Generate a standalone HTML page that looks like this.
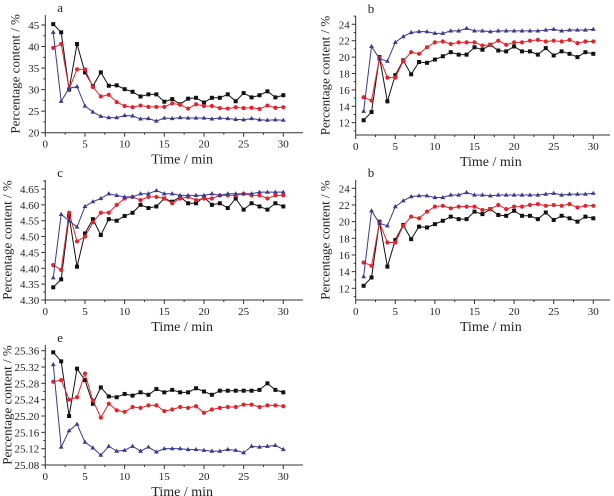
<!DOCTYPE html>
<html><head><meta charset="utf-8"><style>
html,body{margin:0;padding:0;background:#fff;}
svg{display:block;}
text{font-family:"Liberation Serif","Times New Roman",serif;}
</style></head><body>
<svg id="fig" width="614" height="496" viewBox="0 0 614 496" font-family="Liberation Serif, serif"></svg>
<script>
const times=[];for(let i=1;i<=30;i++)times.push(i);
const aBlack=[45.2,43.3,30,40.6,34,30.8,34,30.9,31,30.1,29.5,28.4,28.9,28.9,27.2,27.8,26.6,27.9,28.1,27,28.1,28.1,28.9,27.3,29.2,28.2,28.7,29.6,28.2,28.7];
const aRed=[39.7,40.6,30.2,34.7,34.7,30.6,28.4,28.8,27.1,26.2,25.9,26.3,26,26,26,26.8,26.5,25.6,26.6,26.2,26.2,25.7,25.6,25.9,25.7,25.8,25.5,26.3,25.8,25.9];
const aBlue=[43.3,27.3,30.3,30.7,26.2,24.8,23.8,23.5,23.5,24,23.9,23.2,23.3,22.7,23.4,23.3,23.5,23.4,23.4,23.4,23.2,23.4,23.3,23.1,23,23.3,23,22.9,23,22.9];
const bBlack=[12.3,13.3,20,14.6,17.8,19.6,17.9,19.4,19.3,19.7,20.1,20.6,20.3,20.3,21.2,20.9,21.5,20.8,20.7,21.3,20.7,20.7,20.3,21.1,20.2,20.7,20.4,20,20.6,20.4];
const bRed=[15.1,14.7,19.9,17.5,17.5,19.5,20.6,20.4,21.2,21.8,21.9,21.6,21.8,21.8,21.8,21.4,21.5,22,21.5,21.8,21.8,22,22.1,21.9,22,21.9,22.1,21.7,21.9,21.9];
const bBlue=[13.4,21.3,19.8,19.5,21.8,22.5,23,23.1,23.1,22.9,22.9,23.2,23.2,23.5,23.2,23.2,23.1,23.2,23.2,23.2,23.2,23.2,23.2,23.3,23.4,23.2,23.3,23.3,23.3,23.4];
const cBlack=[4.34,4.365,4.565,4.405,4.51,4.555,4.505,4.555,4.55,4.565,4.575,4.6,4.59,4.595,4.62,4.61,4.625,4.605,4.605,4.625,4.6,4.605,4.59,4.62,4.585,4.605,4.595,4.585,4.605,4.595];
const cRed=[4.41,4.395,4.575,4.485,4.5,4.545,4.575,4.575,4.6,4.62,4.625,4.615,4.625,4.625,4.62,4.605,4.62,4.625,4.615,4.62,4.62,4.63,4.63,4.63,4.635,4.63,4.63,4.62,4.63,4.63];
const cBlue=[4.37,4.57,4.55,4.53,4.595,4.61,4.62,4.635,4.63,4.625,4.625,4.635,4.635,4.645,4.635,4.635,4.63,4.63,4.63,4.63,4.635,4.63,4.635,4.635,4.635,4.635,4.64,4.64,4.64,4.64];
const eBlack=[25.356,25.334,25.2,25.316,25.288,25.23,25.27,25.248,25.246,25.254,25.25,25.258,25.252,25.266,25.258,25.264,25.258,25.258,25.268,25.26,25.252,25.262,25.262,25.262,25.262,25.262,25.264,25.28,25.264,25.258];
const eRed=[25.284,25.288,25.24,25.246,25.304,25.238,25.196,25.23,25.214,25.21,25.222,25.22,25.226,25.226,25.212,25.216,25.222,25.22,25.224,25.208,25.216,25.22,25.222,25.222,25.228,25.228,25.222,25.226,25.226,25.224];
const eBlue=[25.326,25.124,25.164,25.18,25.136,25.122,25.104,25.126,25.114,25.116,25.126,25.114,25.124,25.112,25.12,25.12,25.12,25.118,25.118,25.116,25.114,25.114,25.118,25.116,25.11,25.126,25.124,25.126,25.128,25.118];
const xTicks=[0,5,10,15,20,25,30];
const aTicks=[20,25,30,35,40,45];
const bTicks=[12,14,16,18,20,22,24];
const cTicks=[4.30,4.35,4.40,4.45,4.50,4.55,4.60,4.65];
const eTicks=[25.08,25.12,25.16,25.20,25.24,25.28,25.32,25.36];

const NS="http://www.w3.org/2000/svg";
const svg=document.getElementById('fig');
const FF='Liberation Serif, Times New Roman, serif';
function mk(tag,attrs,parent){const e=document.createElementNS(NS,tag);for(const k in attrs)e.setAttribute(k,attrs[k]);if(tag==='text'){e.setAttribute('font-family',FF);e.setAttribute('font-weight','normal');}(parent||svg).appendChild(e);return e;}

const panels=[
 {id:'a',letter:'a',x0:45.3,x30:283.3,xr:303,v0:20,p0:132.7,v1:45,p1:25,bot:132.7,top:15,ticks:aTicks,dec:0,s:[aBlack,aRed,aBlue]},
 {id:'b',letter:'b',x0:355.7,x30:593.3,xr:610,v0:12,p0:122.7,v1:24,p1:24.3,bot:135,top:16,ticks:bTicks,dec:0,s:[bBlack,bRed,bBlue]},
 {id:'c',letter:'c',x0:45.3,x30:283.3,xr:303,v0:4.30,p0:300,v1:4.65,p1:189,bot:300,top:180,ticks:cTicks,dec:2,s:[cBlack,cRed,cBlue]},
 {id:'d',letter:'b',x0:355.7,x30:593.3,xr:610,v0:12,p0:288.3,v1:24,p1:188.3,bot:300,top:180,ticks:bTicks,dec:0,s:[bBlack,bRed,bBlue]},
 {id:'e',letter:'e',x0:45.3,x30:283.3,xr:303,v0:25.08,p0:465,v1:25.36,p1:350.7,bot:465,top:345,ticks:eTicks,dec:2,s:[eBlack,eRed,eBlue]}
];
const colors=['#111','#e3242b','#3a3a8f'];
const sNames=['black','red','blue'];

panels.forEach(P=>{
 const g=mk('g',{});
 
 
 const xs=t=>P.x0+(P.x30-P.x0)*t/30;
 const ys=v=>P.p0+(P.p1-P.p0)*(v-P.v0)/(P.v1-P.v0);
 const ax=mk('path',{d:`M${P.x0} ${P.top}V${P.bot}H${P.xr}`,fill:'none',stroke:'#333','stroke-width':1},g);
 
 
 for(let t=0;t*(P.x30-P.x0)/30+P.x0<=P.xr;t+=2.5){
  const major=t%5===0;
  mk('line',{x1:xs(t),x2:xs(t),y1:P.bot,y2:P.bot+(major?4:2),stroke:'#333','stroke-width':1},g);
 }
 xTicks.forEach(t=>{
  const tx=mk('text',{x:xs(t),y:P.bot+15,'font-size':11,'text-anchor':'middle',fill:'#222'},g);
  tx.textContent=t;
  
  
 });
 const step=P.ticks[1]-P.ticks[0];
 for(let i=0;i<P.ticks.length;i++){
  const v=P.ticks[i];
  mk('line',{x1:P.x0-4,x2:P.x0,y1:ys(v),y2:ys(v),stroke:'#333','stroke-width':1},g);
  const mv=v+step/2;
  if(ys(mv)>=P.top) mk('line',{x1:P.x0-2,x2:P.x0,y1:ys(mv),y2:ys(mv),stroke:'#333','stroke-width':1},g);
  const mv2=v-step/2;
  if(i===0&&ys(mv2)<=P.bot) mk('line',{x1:P.x0-2,x2:P.x0,y1:ys(mv2),y2:ys(mv2),stroke:'#333','stroke-width':1},g);
  const ty=mk('text',{x:P.x0-6,y:ys(v)+4,'font-size':11,'text-anchor':'end',fill:'#222'},g);
  ty.textContent=v.toFixed(P.dec);
  
  
 }
 const xt=mk('text',{x:(P.x0+P.xr)/2+8,y:P.bot+31,'font-size':14,'text-anchor':'middle',fill:'#222'},g);
 xt.textContent='Time / min';
 
 
 const yx=P.x0-(P.dec?34:26), ym=(P.top+P.bot)/2;
 const yt=mk('text',{x:yx,y:ym,'font-size':13,'text-anchor':'middle',fill:'#222',transform:`rotate(-90 ${yx} ${ym})`},g);
 yt.textContent='Percentage content / %';
 
 
 const lt=mk('text',{x:P.x0+12,y:P.top-3,'font-size':13,fill:'#222'},g);
 lt.textContent=P.letter;
 
 
 P.s.forEach((arr,si)=>{
  const c=colors[si];
  const sg=mk('g',{},g);
  
  
  mk('polyline',{points:arr.map((v,i)=>xs(times[i])+','+ys(v)).join(' '),fill:'none',stroke:c,'stroke-width':1},sg);
  arr.forEach((v,i)=>{
   const x=xs(times[i]),y=ys(v);let m;
   if(si===0) m=mk('rect',{x:x-2,y:y-2,width:4,height:4,fill:c},sg);
   else if(si===1) m=mk('circle',{cx:x,cy:y,r:2.1,fill:c},sg);
   else m=mk('path',{d:`M${x} ${y-2.6}L${x+2.4} ${y+1.6}L${x-2.4} ${y+1.6}Z`,fill:c},sg);
   
   
  });
 });
});
</script>
</body></html>
